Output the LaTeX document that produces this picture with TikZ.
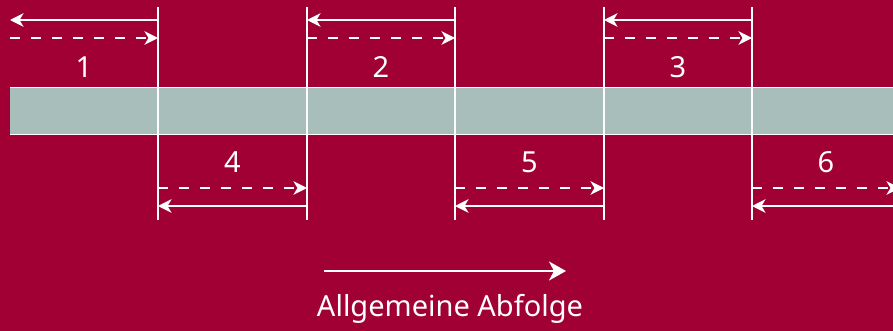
\documentclass[tikz,border=0pt]{standalone}
\usepackage{fontspec}
\setmainfont{Noto Sans}
\usetikzlibrary{arrows.meta}
\definecolor{bgred}{HTML}{A00034}
\definecolor{bargray}{HTML}{A8BEBA}
\begin{document}
\begin{tikzpicture}[x=1pt,y=-1pt,
  guide/.style={white, line width=2pt},
  back/.style={white, line width=2pt, -{Stealth[length=13.5pt,width=13.5pt,inset=4pt]}},
  fwd/.style={back, dash pattern=on 10pt off 11pt},
  bigarrow/.style={white, line width=2.4pt, -{Stealth[length=17pt,width=19pt,inset=5pt]}},
  num/.style={text=white, font=\fontsize{29}{29}\selectfont, inner sep=0pt}]
\useasboundingbox (0,0) rectangle (893,331);
\fill[bgred] (0,0) rectangle (893,331);
\clip (0,0) rectangle (893,331);
% the bar with its white edges
\fill[bargray] (10,88) rectangle (900,134);
\draw[white, line width=1.6pt] (10,87.5) -- (900,87.5) (10,134.5) -- (900,134.5);
% boundary positions at each level
\foreach \n/\x in {A/10,B/158,C/307,D/455,E/604,F/752,G/900}{
  \coordinate (\n top) at (\x,7);
  \coordinate (\n bot) at (\x,220);
  \coordinate (\n s1) at (\x,20);
  \coordinate (\n d1) at (\x,38);
  \coordinate (\n d2) at (\x,188);
  \coordinate (\n s2) at (\x,206);
}
\foreach \n in {B,C,D,E,F} \draw[guide] (\n top) -- (\n bot);
% upper segments
\foreach \l/\r/\k in {A/B/1,C/D/2,E/F/3}{
  \draw[back] (\r s1) -- (\l s1);
  \draw[fwd] (\l d1) -- (\r d1);
  \path (\l d1) -- (\r d1) node[num, pos=0.5, yshift=-29pt] (n\k) {\k};
}
% lower segments
\foreach \l/\r/\k in {B/C/4,D/E/5,F/G/6}{
  \draw[fwd] (\l d2) -- (\r d2);
  \draw[back] (\r s2) -- (\l s2);
  \path (\l d2) -- (\r d2) node[num, pos=0.5, yshift=26pt] (n\k) {\k};
}
% legend
\coordinate (la) at (324,271);
\coordinate (lb) at (566,271);
\draw[bigarrow] (la) -- (lb);
\node[num, anchor=base] (legend) at (450,316) {Allgemeine Abfolge};
\end{tikzpicture}
\end{document}
